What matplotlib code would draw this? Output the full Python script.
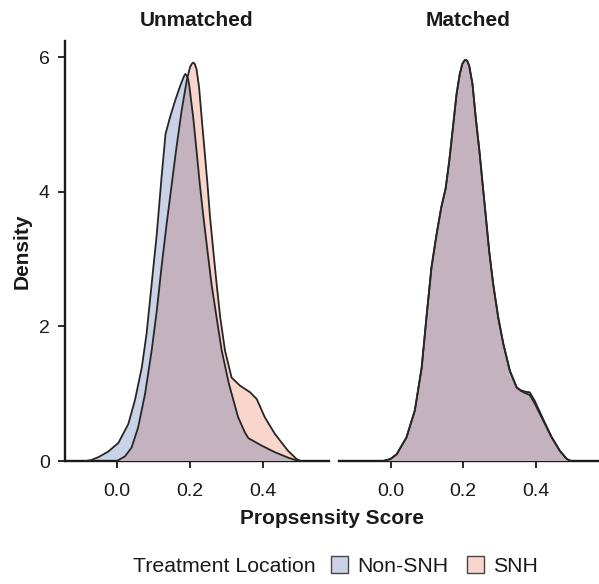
import matplotlib
matplotlib.use("Agg")
import matplotlib.pyplot as plt
from matplotlib.patches import Patch

plt.rcParams['font.family'] = ['Liberation Sans', 'DejaVu Sans']

# ---- data ----
panels = ["Unmatched", "Matched"]
groups = ["Non-SNH", "SNH"]

unm_nonsnh_x = [-0.085, -0.070, -0.050, -0.024, 0.004, 0.031, 0.049, 0.068, 0.081, 0.095, 0.109,
                0.122, 0.133, 0.145, 0.159, 0.173, 0.183, 0.187, 0.191, 0.195, 0.198, 0.209,
                0.218, 0.227, 0.237, 0.248, 0.259, 0.273, 0.287, 0.307, 0.332, 0.351,
                0.360, 0.396, 0.433, 0.469, 0.497]
unm_nonsnh_y = [0.0, 0.015, 0.06, 0.14, 0.27, 0.55, 0.90, 1.39, 1.89, 2.63, 3.37,
                4.21, 4.86, 5.10, 5.35, 5.57, 5.71, 5.75, 5.73, 5.67, 5.58, 5.10,
                4.61, 4.11, 3.62, 3.12, 2.63, 2.13, 1.64, 1.14, 0.65, 0.42,
                0.34, 0.23, 0.13, 0.05, 0.0]

unm_snh_x = [0.000, 0.022, 0.040, 0.058, 0.077, 0.095, 0.109, 0.122, 0.136, 0.150,
             0.163, 0.177, 0.191, 0.200, 0.205, 0.209, 0.213, 0.218, 0.225, 0.232, 0.240, 0.248,
             0.255, 0.264, 0.273, 0.283, 0.296, 0.314, 0.337, 0.351, 0.365, 0.383, 0.405,
             0.433, 0.469, 0.492, 0.503]
unm_snh_y = [0.0, 0.07, 0.20, 0.50, 1.00, 1.64, 2.23, 2.88, 3.52, 4.11,
             4.66, 5.20, 5.65, 5.85, 5.90, 5.92, 5.90, 5.82, 5.55, 5.10, 4.61, 4.11,
             3.62, 3.12, 2.63, 2.13, 1.64, 1.24, 1.12, 1.07, 1.02, 0.92, 0.65,
             0.40, 0.15, 0.03, 0.0]

mat_snh_x = [-0.020, 0.000, 0.017, 0.044, 0.067, 0.086, 0.099, 0.113, 0.127, 0.140, 0.152,
             0.162, 0.173, 0.182, 0.191, 0.198, 0.204, 0.208, 0.212, 0.217, 0.226, 0.235, 0.245,
             0.254, 0.263, 0.272, 0.283, 0.297, 0.311, 0.329, 0.348, 0.360, 0.371, 0.384,
             0.398, 0.421, 0.444, 0.467, 0.486, 0.497]
mat_snh_y = [0.0, 0.03, 0.10, 0.35, 0.75, 1.39, 2.13, 2.88, 3.37, 3.77, 4.05,
             4.46, 5.00, 5.45, 5.75, 5.90, 5.95, 5.96, 5.94, 5.87, 5.60, 5.10, 4.61,
             4.11, 3.62, 3.12, 2.63, 2.13, 1.74, 1.34, 1.09, 1.04, 1.01, 0.98,
             0.85, 0.60, 0.35, 0.15, 0.03, 0.0]

mat_nonsnh_x = [-0.020, 0.000, 0.017, 0.044, 0.067, 0.086, 0.099, 0.113, 0.127, 0.140, 0.152,
                0.162, 0.173, 0.182, 0.191, 0.198, 0.204, 0.208, 0.212, 0.217, 0.226, 0.235, 0.245,
                0.254, 0.263, 0.272, 0.283, 0.297, 0.311, 0.329, 0.348, 0.360, 0.371, 0.384,
                0.398, 0.421, 0.444, 0.467, 0.486, 0.497]
mat_nonsnh_y = [0.0, 0.03, 0.10, 0.35, 0.75, 1.39, 2.13, 2.88, 3.37, 3.77, 4.05,
                4.46, 5.00, 5.45, 5.75, 5.90, 5.95, 5.96, 5.94, 5.87, 5.60, 5.10, 4.61,
                4.11, 3.62, 3.12, 2.63, 2.13, 1.74, 1.34, 1.09, 1.05, 1.03, 1.02,
                0.89, 0.62, 0.36, 0.15, 0.03, 0.0]

x_ticks = [0.0, 0.2, 0.4]
x_ticklabels = ["0.0", "0.2", "0.4"]
y_ticks = [0, 2, 4, 6]

# ---- style ----
c_blue = "#c9d2e6"
c_red = "#f8d6cc"
c_both = "#c4b3be"
c_line = "#262626"
c_text = "#1a1a1a"

fig = plt.figure(figsize=(5.99, 5.84), dpi=100)
W, H = 599, 584
axL = fig.add_axes([65 / W, 1 - 461 / H, (329 - 65) / W, (461 - 41) / H])
axR = fig.add_axes([339 / W, 1 - 461 / H, (598 - 339) / W, (461 - 41) / H])

data = {
    "Unmatched": ((unm_nonsnh_x, unm_nonsnh_y), (unm_snh_x, unm_snh_y)),
    "Matched": ((mat_nonsnh_x, mat_nonsnh_y), (mat_snh_x, mat_snh_y)),
}

for ax, name in zip([axL, axR], panels):
    (bx, by), (rx, ry) = data[name]
    pb = ax.fill_between(bx, 0, by, color=c_blue, lw=0, zorder=1)
    ax.fill_between(rx, 0, ry, color=c_red, lw=0, zorder=2)
    ov = ax.fill_between(rx, 0, ry, color=c_both, lw=0, zorder=3)
    ov.set_clip_path(pb.get_paths()[0], ax.transData)
    ax.plot(bx, by, color=c_line, lw=1.3, zorder=4, solid_joinstyle='round')
    ax.plot(rx, ry, color=c_line, lw=1.3, zorder=5, solid_joinstyle='round')
    ax.set_ylim(0, 6.24)
    ax.set_xticks(x_ticks)
    ax.set_xticklabels(x_ticklabels)
    for s in ["top", "right"]:
        ax.spines[s].set_visible(False)
    ax.spines["bottom"].set_linewidth(1.7)
    ax.spines["bottom"].set_color(c_text)
    ax.spines["left"].set_linewidth(1.7)
    ax.spines["left"].set_color(c_text)
    ax.tick_params(axis="both", length=5, width=1.3, color=c_text,
                   labelsize=14, labelcolor=c_text, pad=6)
    ax.tick_params(axis="x", pad=11)
    ax.set_title(name, fontsize=15, fontweight="bold", color=c_text, pad=11)

axL.set_xlim(-0.1425, 0.581)
axR.set_xlim(-0.142, 0.572)
axL.set_yticks(y_ticks)
axR.set_yticks([])
axR.spines["left"].set_visible(False)
axL.set_ylabel("Density", fontsize=15, fontweight="bold", color=c_text, labelpad=5)

fig.text(332 / W, 1 - 518 / H, "Propsensity Score", fontsize=15, fontweight="bold",
         color=c_text, ha="center", va="center")

fig.text(133 / W, 1 - 566 / H, "Treatment Location", fontsize=15.3, color=c_text,
         ha="left", va="center")
handles = [Patch(facecolor=c_blue, edgecolor="#444444", lw=1.0, label=groups[0]),
           Patch(facecolor=c_red, edgecolor="#444444", lw=1.0, label=groups[1])]
fig.legend(handles=handles, ncol=2, loc="center left",
           bbox_to_anchor=(331 / W, 1 - 566 / H), frameon=False,
           fontsize=15.3, handlelength=0.8, handleheight=0.8,
           handletextpad=0.45, columnspacing=0.85, borderpad=0, borderaxespad=0,
           labelcolor=c_text)

fig.savefig("out.png", dpi=100)
